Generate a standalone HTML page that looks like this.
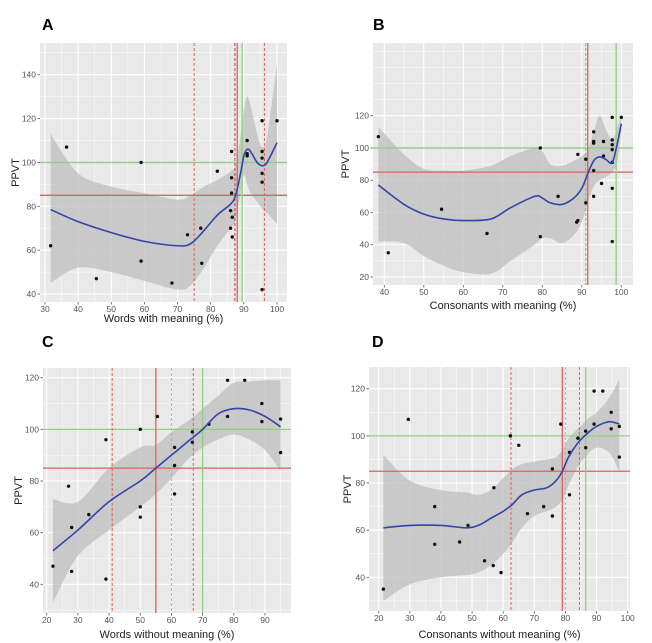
<!DOCTYPE html>
<html><head><meta charset="utf-8"><style>
body{margin:0;background:#fff;}
svg{display:block;font-family:"Liberation Sans",sans-serif;}
</style></head><body>
<svg id="fig" width="652" height="643" viewBox="0 0 652 643" xmlns="http://www.w3.org/2000/svg"></svg>
<script>
// ---- Panel A data ----
const aPointsX=[31.7,36.5,45.5,59,59,68.3,73,77,77.3,82,86.3,86.3,86.3,86,86.5,86,86.5,91,91,91,95.5,95.5,95.5,95.5,95.5,95.5,100];
const aPointsY=[62,107,47,100,55,45,67,70,54,96,105,93,86,78,75,70,66,110,104,103,119,105,102,95,91,42,119];
const aCurveX=[31.7,40,50,60,70,74,78,82,86,87.5,89,90,91,92,94,95.5,97,100];
const aCurveY=[78.5,73,68,64,62,63,69,76,81,85,95,103,106,105,100,98.5,100,109];
const aUpperY=[113,95,89,86,83,85,89,92,96,99,112,124,130,126,113,107,112,145];
const aLowerY=[45,52,50,46,42,44,52,62,70,74,86,94,90,86,82,79,77,72];
// ---- Panel B data ----
const bPointsX=[38.5,41,54.5,66,79.5,79.5,84,88.7,89,89,91,91,93,93,93,93,93,95,95.5,95.5,97.7,97.7,97.7,97.7,97.7,97.7,97.7,100];
const bPointsY=[107,35,62,47,100,45,70,54,55,96,93,66,110,104,103,86,70,78,104,95,119,105,102,99,91,75,42,119];
const bCurveX=[38.5,45,50,55,60,67,72,78,80,82,85,88,90,91.5,93,94.5,96,97.7,99,100];
const bCurveY=[77,65,59,56,55,56,63,70,69,66,65,69,75,84,92,94.5,93,91,103,115];
const bUpperY=[113,96,87,86,86,89,95,100,98,90,89,92,95,99,110,120,112,105,113,120];
const bLowerY=[42,41,33,27,23,22,30,40,44,44,41,46,54,66,76,80,82,85,92,110];
// ---- Panel C data ----
const cPointsX=[22,27,28,28,33.5,39,39,50,50,50,55.5,61,61,61,66.7,66.7,72,78,78,83.5,89,89,95,95];
const cPointsY=[47,78,62,45,67,96,42,100,70,66,105,93,86,75,99,95,102,119,105,119,110,103,104,91];
const cCurveX=[22,30,40,50,55,60,65,70,75,80,85,90,95];
const cCurveY=[53,61,72,80,85,90,95,100,106,108,107.5,105,101];
const cUpperY=[73,72,85,93,94,99,103,108,113,118,118.5,119,119];
const cLowerY=[33,51,61,70,75,81,88,93,96,98,96,92,84];
// ---- Panel D data ----
const dPointsX=[21.5,29.5,38,38,46,48.7,54,57,56.8,59.3,62.3,65,67.8,73,75.8,75.8,78.5,81.3,81.3,84,86.5,86.5,89.2,89.2,92,94.7,94.7,97.3,97.3];
const dPointsY=[35,107,70,54,55,62,47,78,45,42,100,96,67,70,86,66,105,93,75,99,102,95,119,105,119,110,103,104,91];
const dCurveX=[21.5,30,40,48,52,56,60,63,66,70,74,77,79,81,84,87,90,94,97.3];
const dCurveY=[61,62,62,61,62,65,68,71,75,77,78,81,85,91,97,101,104,106,105];
const dUpperY=[92,81,77,76,75,77,82,86,88,89,90,91,94,99,103,107,110,116,124];
const dLowerY=[30,37,40,41,42,45,50,55,61,66,68,70,73,79,87,92,95,93,85];
// ticks
const aXTicks=[30,40,50,60,70,80,90,100], aYTicks=[40,60,80,100,120,140];
const bXTicks=[40,50,60,70,80,90,100], bYTicks=[20,40,60,80,100,120];
const cXTicks=[20,30,40,50,60,70,80,90], cYTicks=[40,60,80,100,120];
const dXTicks=[20,30,40,50,60,70,80,90,100], dYTicks=[40,60,80,100,120];
// reference lines
const aVLines=[[75,'#e06060',true],[87.3,'#c04040',true],[88,'#e06060',false],[89.5,'#8fcf7f',false],[96.2,'#e06060',true]];
const bVLines=[[91,'#a0b060',true],[91.5,'#e06060',false],[98.7,'#8fcf7f',false]];
const cVLines=[[41,'#e06060',true],[55,'#e06060',false],[60,'#8fcf7f',true],[67,'#e06060',true],[70,'#8fcf7f',false]];
const dVLines=[[62.5,'#e06060',true],[79,'#e06060',false],[80,'#8fcf7f',true],[84.5,'#e06060',true],[86.5,'#8fcf7f',false]];
const hLines=[[100,'#8fcf7f'],[85,'#e06060']];

const NS='http://www.w3.org/2000/svg';
const svg=document.getElementById('fig');
function mk(tag,attrs,parent){const e=document.createElementNS(NS,tag);for(const k in attrs)e.setAttribute(k,attrs[k]);(parent||svg).appendChild(e);return e;}
function catmull(pts){let d='M'+pts[0][0]+','+pts[0][1];for(let i=0;i<pts.length-1;i++){const p0=pts[Math.max(i-1,0)],p1=pts[i],p2=pts[i+1],p3=pts[Math.min(i+2,pts.length-1)];const c1=[p1[0]+(p2[0]-p0[0])/6,p1[1]+(p2[1]-p0[1])/6],c2=[p2[0]-(p3[0]-p1[0])/6,p2[1]-(p3[1]-p1[1])/6];d+='C'+c1[0]+','+c1[1]+' '+c2[0]+','+c2[1]+' '+p2[0]+','+p2[1];}return d;}

function panel(cfg){
  const g=mk('g',{});
  
  
  const sx=v=>cfg.px0+(v-cfg.vx0)*(cfg.px1-cfg.px0)/(cfg.vx1-cfg.vx0);
  const sy=v=>cfg.py0+(v-cfg.vy0)*(cfg.py1-cfg.py0)/(cfg.vy1-cfg.vy0);
  const bg=mk('rect',{x:cfg.L,y:cfg.T,width:cfg.R-cfg.L,height:cfg.B-cfg.T,fill:'#e9e9e9'},g);
  
  
  const xs=cfg.xt, ys=cfg.yt, dx=xs[1]-xs[0], dy=ys[1]-ys[0];
  for(let v=xs[0]-dx;v<=xs[xs.length-1]+dx;v+=dx/2){const x=sx(v);if(x<cfg.L||x>cfg.R)continue;const maj=xs.includes(v);mk('line',{x1:x,x2:x,y1:cfg.T,y2:cfg.B,stroke:'#fff','stroke-width':maj?1.1:0.5},g);}
  for(let v=ys[0]-dy;v<=ys[ys.length-1]+3*dy;v+=dy/2){const y=sy(v);if(y<cfg.T||y>cfg.B)continue;const maj=ys.includes(v);mk('line',{x1:cfg.L,x2:cfg.R,y1:y,y2:y,stroke:'#fff','stroke-width':maj?1.1:0.5},g);}
  // band
  const up=cfg.cx.map((x,i)=>[sx(x),sy(cfg.up[i])]);
  const lo=cfg.cx.map((x,i)=>[sx(x),sy(cfg.lo[i])]).reverse();
  const band=mk('path',{d:catmull(up)+catmull(lo).replace('M','L')+'Z',fill:'#bdbdbd','fill-opacity':0.75},g);
  
  
  hLines.forEach(h=>{const l=mk('line',{x1:cfg.L,x2:cfg.R,y1:sy(h[0]),y2:sy(h[0]),stroke:h[1],'stroke-width':1.3},g);
    
    });
  cfg.vl.forEach(v=>{const l=mk('line',{x1:sx(v[0]),x2:sx(v[0]),y1:cfg.T,y2:cfg.B,stroke:v[1],'stroke-width':v[2]?1:1.3,'stroke-dasharray':v[2]?'3,2':'none'},g);
    
    });
  cfg.pxv.forEach((x,i)=>{const c=mk('circle',{cx:sx(x),cy:sy(cfg.pyv[i]),r:1.7,fill:'#111'},g);
    
    });
  const cv=mk('path',{d:catmull(cfg.cx.map((x,i)=>[sx(x),sy(cfg.cy[i])])),fill:'none',stroke:'#3344aa','stroke-width':1.6},g);
  
  
  xs.forEach(v=>{const x=sx(v);mk('line',{x1:x,x2:x,y1:cfg.B,y2:cfg.B+2.5,stroke:'#555','stroke-width':0.8},g);
    const t=mk('text',{x:x,y:cfg.B+10,'font-size':8.5,fill:'#555','text-anchor':'middle'},g);t.textContent=v;
    
    });
  ys.forEach(v=>{const y=sy(v);mk('line',{x1:cfg.L-2.5,x2:cfg.L,y1:y,y2:y,stroke:'#555','stroke-width':0.8},g);
    const t=mk('text',{x:cfg.L-4,y:y+3,'font-size':8.5,fill:'#555','text-anchor':'end'},g);t.textContent=v;
    
    });
  const xt=mk('text',{x:(cfg.L+cfg.R)/2,y:cfg.xty,'font-size':11,fill:'#222','text-anchor':'middle'},g);xt.textContent=cfg.xtitle;
  
  
  const yc=(cfg.T+cfg.B)/2;
  const yt=mk('text',{x:cfg.ytx,y:yc,'font-size':11,fill:'#222','text-anchor':'middle',transform:'rotate(-90 '+cfg.ytx+' '+yc+')'},g);yt.textContent='PPVT';
  
  
  const lb=mk('text',{x:cfg.lx,y:cfg.ly,'font-size':16,'font-weight':'bold',fill:'#000'},g);lb.textContent=cfg.id;
  
  
}
panel({id:'A',L:40,R:287,T:43,B:302,vx0:30,px0:45,vx1:100,px1:277,vy0:40,py0:294,vy1:140,py1:74.7,xt:aXTicks,yt:aYTicks,
 pxv:aPointsX,pyv:aPointsY,cx:aCurveX,cy:aCurveY,up:aUpperY,lo:aLowerY,vl:aVLines,xtitle:'Words with meaning (%)',xty:322,ytx:19,lx:42,ly:30});
panel({id:'B',L:373,R:633,T:43,B:285,vx0:40,px0:384.3,vx1:100,px1:621.3,vy0:20,py0:277,vy1:120,py1:115.7,xt:bXTicks,yt:bYTicks,
 pxv:bPointsX,pyv:bPointsY,cx:bCurveX,cy:bCurveY,up:bUpperY,lo:bLowerY,vl:bVLines,xtitle:'Consonants with meaning (%)',xty:309,ytx:349,lx:373,ly:30});
panel({id:'C',L:43,R:291,T:368,B:613,vx0:20,px0:46.7,vx1:90,px1:265,vy0:40,py0:584.3,vy1:120,py1:377.7,xt:cXTicks,yt:cYTicks,
 pxv:cPointsX,pyv:cPointsY,cx:cCurveX,cy:cCurveY,up:cUpperY,lo:cLowerY,vl:cVLines,xtitle:'Words without meaning (%)',xty:638,ytx:22,lx:42,ly:347});
panel({id:'D',L:369,R:630,T:367,B:611,vx0:20,px0:378.7,vx1:100,px1:627.7,vy0:40,py0:577.3,vy1:120,py1:388.7,xt:dXTicks,yt:dYTicks,
 pxv:dPointsX,pyv:dPointsY,cx:dCurveX,cy:dCurveY,up:dUpperY,lo:dLowerY,vl:dVLines,xtitle:'Consonants without meaning (%)',xty:638,ytx:351,lx:372,ly:347});
</script>
</body></html>
